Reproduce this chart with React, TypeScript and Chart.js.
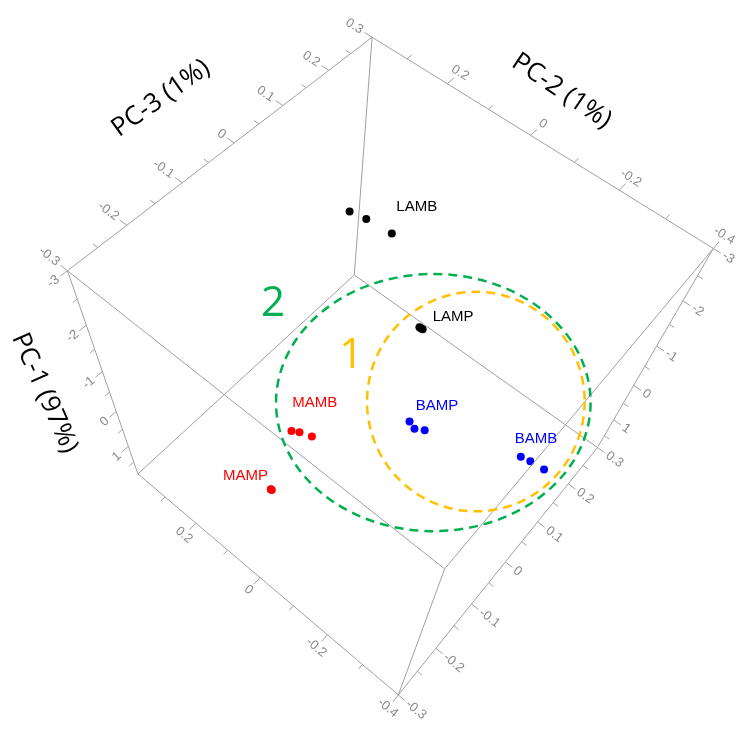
import React, { useEffect, useRef } from "react";
import { Chart, registerables } from "chart.js";

Chart.register(...registerables);

// ---------- axes ----------
const PC1_RANGE = [-3, 1.9];
const PC2_RANGE = [-0.4, 0.39];
const PC3_RANGE = [-0.3, 0.3];
const RANGES = [PC1_RANGE, PC2_RANGE, PC3_RANGE];

const PC1_MAJOR = [-3, -2, -1, 0, 1];
const PC1_MINOR = [-2.5, -1.5, -0.5, 0.5, 1.5];
const PC2_MAJOR = [-0.4, -0.2, 0, 0.2];
const PC2_MINOR = [-0.3, -0.1, 0.1, 0.3];
const PC3_MAJOR = [-0.3, -0.2, -0.1, 0, 0.1, 0.2, 0.3];
const PC3_MINOR = [-0.25, -0.15, -0.05, 0.05, 0.15, 0.25];
const MAJORS = [PC1_MAJOR, PC2_MAJOR, PC3_MAJOR];
const MINORS = [PC1_MINOR, PC2_MINOR, PC3_MINOR];

const AXIS_TITLES = ["PC-1 (97%)", "PC-2 (1%)", "PC-3 (1%)"];

// ---------- scores: [PC-1, PC-2, PC-3] ----------
const LAMB = [[-2.55, 0.168, 0.052], [-2.5, 0.138, 0.062], [-2.42, 0.087, 0.073]];
const LAMP = [[0.58, 0.081, 0.192], [0.6, 0.073, 0.194], [0.62, 0.079, 0.195]];
const MAMB = [[-1.02, 0.028, -0.191], [-1.0, 0.016, -0.184], [-0.95, -0.005, -0.175]];
const MAMP = [[0.98, 0.08, -0.202], [1.0, 0.079, -0.201], [1.02, 0.083, -0.2]];
const BAMP = [[0.88, -0.047, 0.047], [0.9, -0.066, 0.043], [0.93, -0.085, 0.054]];
const BAMB = [[1.27, -0.284, 0.146], [1.3, -0.307, 0.152], [1.35, -0.343, 0.158]];

const GROUP_NAMES = ["LAMB", "LAMP", "MAMB", "MAMP", "BAMP", "BAMB"];
const GROUP_SCORES = [LAMB, LAMP, MAMB, MAMP, BAMP, BAMB];
const GROUP_COLORS = ["#000000", "#000000", "#ff0000", "#ff0000", "#0000ff", "#0000ff"];

// ---------- perspective camera (normalized box coords -> screen) ----------
const CAMERA = [
  148.4569, -371.5073, 445.1197, 445.4666,
  469.6728, -260.1341, -264.156366, 571.138631,
  0.489944, 0.153129, 0.241888,
];

function projN(n: number[]) {
  const P = CAMERA;
  const w = P[8] * n[0] + P[9] * n[1] + P[10] * n[2] + 1;
  return {
    x: (P[0] * n[0] + P[1] * n[1] + P[2] * n[2] + P[3]) / w,
    y: (P[4] * n[0] + P[5] * n[1] + P[6] * n[2] + P[7]) / w,
  };
}
const toN = (d: number, v: number) => (v - RANGES[d][0]) / (RANGES[d][1] - RANGES[d][0]);
function project(p: number[]) {
  return projN([toN(0, p[0]), toN(1, p[1]), toN(2, p[2])]);
}

// ---------- layout / style ----------
const EDGES = [
  [[0, 1, 1], [0, 1, 0]], [[0, 1, 1], [0, 0, 1]], [[0, 1, 1], [1, 1, 1]],
  [[0, 1, 0], [1, 1, 0]], [[0, 1, 0], [0, 0, 0]], [[0, 0, 1], [0, 0, 0]],
  [[0, 0, 1], [1, 0, 1]], [[1, 1, 1], [1, 1, 0]], [[1, 1, 1], [1, 0, 1]],
  [[1, 1, 0], [1, 0, 0]], [[1, 0, 1], [1, 0, 0]], [[0, 0, 0], [1, 0, 0]],
];
const AXES = [
  { dim: 2, fixed: [0, 1, 0], out: [0, 1, 0], text: [0, -1, 0], align: "right", gap: 3 },
  { dim: 1, fixed: [0, 0, 1], out: [0, 0, 1], text: [0, -1, 0], align: "center", gap: 8 },
  { dim: 1, fixed: [1, 0, 0], out: [0, 0, -1], text: [0, -1, 0], align: "center", gap: 8 },
  { dim: 2, fixed: [1, 0, 0], out: [0, -1, 0], text: [0, -1, 0], align: "left", gap: 3 },
  { dim: 0, fixed: [0, 0, 1], out: [0, -1, 0], text: [0, -1, 0], align: "left", gap: 3 },
  { dim: 0, fixed: [0, 1, 0], out: [0, 0, -1], text: [0, 0, 1], align: "right", gap: 3 },
];
const TITLES = [
  { dim: 0, fixed: [0, 1, 0], offset: [-65, 3], angle: 66 },
  { dim: 1, fixed: [0, 0, 1], offset: [29, -46], angle: 34 },
  { dim: 2, fixed: [0, 1, 0], offset: [-74, -45], angle: -35.5 },
];
const LABEL_OFFSETS = [[48, -15], [32.5, -12], [14, -31], [-26, -14], [21, -21.5], [4.4, -23.7]];
const ELLIPSES = [
  { cx: 434, cy: 403, rx: 159, ry: 130, color: "#00b050" },
  { cx: 477, cy: 402, rx: 110, ry: 111, color: "#ffc000" },
];
const NUMBERS = [
  { text: "2", x: 272, y: 303, color: "#00b050" },
  { text: "1", x: 351, y: 356, color: "#ffc000" },
];
const MAJOR_LEN = 9;
const MINOR_LEN = 6;
const LINE_GRAY = "#a0a0a0";

function fmt(v: number) {
  return String(Math.round(v * 100) / 100);
}

function tickGeom(ax: any, value: number, len: number) {
  const base3 = [...ax.fixed];
  base3[ax.dim] = toN(ax.dim, value);
  const b = projN(base3);
  const o = projN(base3.map((c: number, i: number) => c + ax.out[i] * 0.01));
  let dx = o.x - b.x, dy = o.y - b.y;
  const l = Math.hypot(dx, dy);
  dx /= l;
  dy /= l;
  const t = projN(base3.map((c: number, i: number) => c + ax.text[i] * 0.01));
  const ang = Math.atan2(t.y - b.y, t.x - b.x);
  return { b, e: { x: b.x + dx * len, y: b.y + dy * len }, ang };
}

export default function App() {
  const ref = useRef<HTMLCanvasElement>(null);
  useEffect(() => {
    if (!ref.current) return;
    const datasets: any[] = [];
    EDGES.forEach(([a, b]) => {
      datasets.push({ data: [projN(a), projN(b)], showLine: true, borderColor: LINE_GRAY, borderWidth: 1, pointRadius: 0 });
    });
    const majorSegs: any[] = [];
    const minorSegs: any[] = [];
    AXES.forEach((ax) => {
      MAJORS[ax.dim].forEach((v) => {
        const g = tickGeom(ax, v, MAJOR_LEN);
        majorSegs.push(g.b, g.e, { x: NaN, y: NaN });
      });
      MINORS[ax.dim].forEach((v) => {
        const g = tickGeom(ax, v, MINOR_LEN);
        minorSegs.push(g.b, g.e, { x: NaN, y: NaN });
      });
    });
    datasets.push({ data: majorSegs, showLine: true, borderColor: LINE_GRAY, borderWidth: 1, pointRadius: 0 });
    datasets.push({ data: minorSegs, showLine: true, borderColor: LINE_GRAY, borderWidth: 1, pointRadius: 0 });
    GROUP_SCORES.forEach((g, gi) => {
      datasets.push({
        label: GROUP_NAMES[gi],
        data: g.map((p) => project(p)),
        backgroundColor: GROUP_COLORS[gi],
        borderWidth: 0,
        pointRadius: 4,
        pointHoverRadius: 4,
      });
    });

    const overlay = {
      id: "overlay",
      afterDatasetsDraw(chart: any) {
        const ctx = chart.ctx as CanvasRenderingContext2D;
        const xs = chart.scales.x, ys = chart.scales.y;
        const px = (x: number) => xs.getPixelForValue(x);
        const py = (y: number) => ys.getPixelForValue(y);
        ctx.save();
        // ellipses
        ELLIPSES.forEach((e) => {
          ctx.beginPath();
          ctx.setLineDash([9, 6]);
          ctx.lineWidth = 2.5;
          ctx.strokeStyle = e.color;
          ctx.ellipse(px(e.cx), py(e.cy), px(e.cx + e.rx) - px(e.cx), py(e.cy + e.ry) - py(e.cy), 0, 0, Math.PI * 2);
          ctx.stroke();
        });
        ctx.setLineDash([]);
        // tick labels
        ctx.fillStyle = "#8a8a8a";
        ctx.font = '13px "Liberation Sans", Arial, sans-serif';
        ctx.textBaseline = "middle";
        AXES.forEach((ax) => {
          MAJORS[ax.dim].forEach((v) => {
            const g = tickGeom(ax, v, MAJOR_LEN + ax.gap);
            ctx.save();
            ctx.translate(px(g.e.x), py(g.e.y));
            ctx.rotate(g.ang);
            ctx.textAlign = ax.align as CanvasTextAlign;
            ctx.fillText(fmt(v), 0, 0);
            ctx.restore();
          });
        });
        // axis titles
        ctx.fillStyle = "#000";
        ctx.font = '26px "Open Sans", sans-serif';
        ctx.textAlign = "center";
        TITLES.forEach((t, i) => {
          const m = [...t.fixed];
          m[t.dim] = 0.5;
          const p = projN(m);
          ctx.save();
          ctx.translate(px(p.x + t.offset[0]), py(p.y + t.offset[1]));
          ctx.rotate((t.angle * Math.PI) / 180);
          ctx.fillText(AXIS_TITLES[i], 0, 0);
          ctx.restore();
        });
        // group labels
        ctx.font = '15px "Liberation Sans", Arial, sans-serif';
        GROUP_SCORES.forEach((g, gi) => {
          const pts = g.map((p) => project(p));
          const mx = pts.reduce((s, p) => s + p.x, 0) / pts.length;
          const my = pts.reduce((s, p) => s + p.y, 0) / pts.length;
          ctx.fillStyle = GROUP_COLORS[gi];
          ctx.fillText(GROUP_NAMES[gi], px(mx + LABEL_OFFSETS[gi][0]), py(my + LABEL_OFFSETS[gi][1]));
        });
        // cluster numbers
        ctx.font = '42px "Open Sans", sans-serif';
        NUMBERS.forEach((n) => {
          ctx.fillStyle = n.color;
          ctx.fillText(n.text, px(n.x), py(n.y));
        });
        ctx.restore();
      },
    };

    const chart = new Chart(ref.current, {
      type: "scatter",
      data: { datasets },
      options: {
        animation: false,
        responsive: false,
        devicePixelRatio: 1,
        events: [],
        layout: { padding: 0 },
        plugins: { legend: { display: false }, tooltip: { enabled: false } },
        scales: {
          x: { type: "linear", min: 0, max: 742, display: false },
          y: { type: "linear", min: 0, max: 729, reverse: true, display: false },
        },
      },
      plugins: [overlay],
    });
    return () => chart.destroy();
  }, []);
  return (
    <div style={{ position: "fixed", left: 0, top: 0, width: 742, height: 729, background: "#fff" }}>
      <canvas ref={ref} width={742} height={729} />
    </div>
  );
}
